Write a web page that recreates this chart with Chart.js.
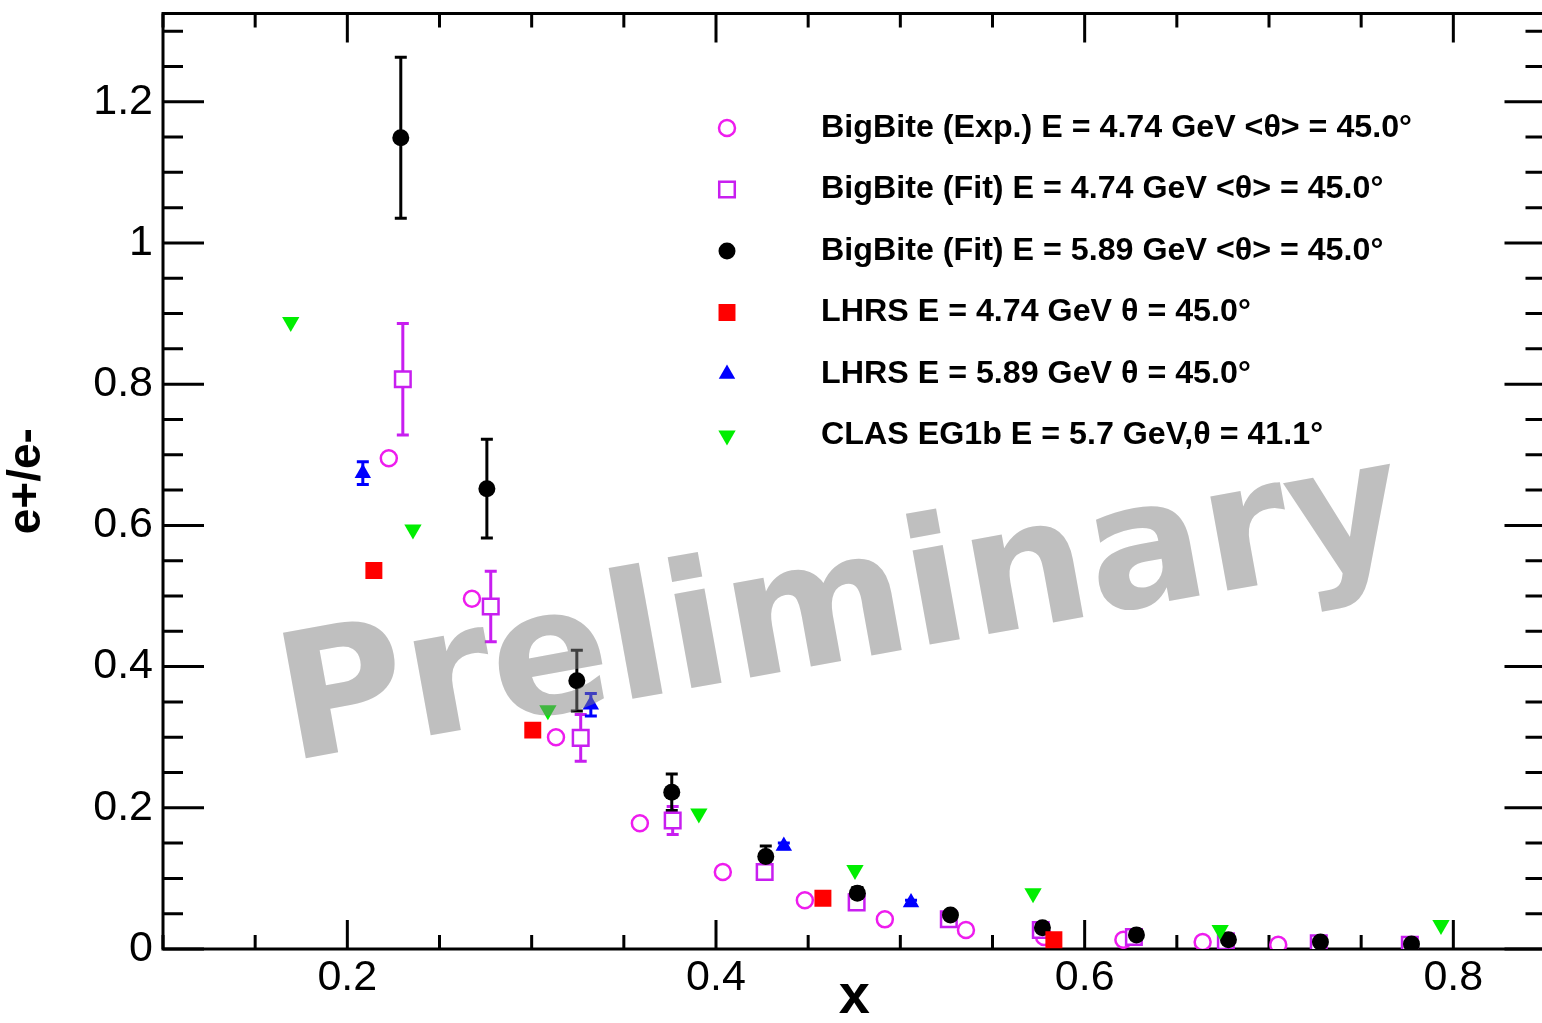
<!DOCTYPE html>
<html>
<head>
<meta charset="utf-8">
<script src="https://cdn.jsdelivr.net/npm/chart.js@4.4.1/dist/chart.umd.min.js"></script>
<style>
  html, body { margin: 0; padding: 0; background: #fff; overflow: hidden; }
  canvas { display: block; }
</style>
</head>
<body>
<canvas id="myChart" width="1560" height="1023"></canvas>
<script>
// tick labels
var xTicks = [0.2, 0.4, 0.6, 0.8];
var yTicks = [0, 0.2, 0.4, 0.6, 0.8, 1, 1.2];

// BigBite (Exp.) E = 4.74 GeV
var expX = [0.2225, 0.2676, 0.3132, 0.3587, 0.4037, 0.4482, 0.4916, 0.5356, 0.578, 0.621, 0.664, 0.705];
var expY = [0.695, 0.496, 0.300, 0.178, 0.109, 0.069, 0.042, 0.027, 0.017, 0.013, 0.010, 0.006];

// BigBite (Fit) E = 4.74 GeV
var fit474X = [0.2301, 0.2778, 0.3266, 0.3765, 0.4264, 0.4763, 0.5263, 0.5762, 0.6267, 0.6766, 0.7270, 0.7764];
var fit474Y = [0.807, 0.485, 0.299, 0.182, 0.109, 0.066, 0.042, 0.027, 0.017, 0.011, 0.008, 0.006];
var fit474Err = [0.079, 0.050, 0.033, 0.020, 0.010, 0.006, 0.004, 0.003, 0.002, 0.002, 0.001, 0.001];

// BigBite (Fit) E = 5.89 GeV
var fit589X = [0.229, 0.2757, 0.3245, 0.376, 0.427, 0.4767, 0.5272, 0.5771, 0.6281, 0.678, 0.7279, 0.7773];
var fit589Y = [1.149, 0.652, 0.380, 0.222, 0.131, 0.079, 0.048, 0.030, 0.020, 0.013, 0.010, 0.007];
var fit589Err = [0.114, 0.070, 0.043, 0.026, 0.015, 0.008, 0.005, 0.004, 0.003, 0.002, 0.002, 0.001];

// LHRS E = 4.74 GeV
var lhrs474X = [0.2144, 0.3006, 0.458, 0.5833];
var lhrs474Y = [0.536, 0.310, 0.072, 0.013];

// LHRS E = 5.89 GeV
var lhrs589X = [0.2084, 0.3321, 0.4368, 0.5058];
var lhrs589Y = [0.674, 0.346, 0.146, 0.066];
var lhrs589Err = [0.016, 0.016, 0.004, 0.003];

// CLAS EG1b
var clasX = [0.1693, 0.2356, 0.3088, 0.3907, 0.4754, 0.5720, 0.6735, 0.7933];
var clasY = [0.888, 0.594, 0.338, 0.192, 0.112, 0.079, 0.027, 0.034];

var labels = [
  "BigBite (Exp.) E = 4.74 GeV <\u03b8> = 45.0\u00b0",
  "BigBite (Fit) E = 4.74 GeV <\u03b8> = 45.0\u00b0",
  "BigBite (Fit) E = 5.89 GeV <\u03b8> = 45.0\u00b0",
  "LHRS E = 4.74 GeV \u03b8 = 45.0\u00b0",
  "LHRS E = 5.89 GeV \u03b8 = 45.0\u00b0",
  "CLAS EG1b E = 5.7 GeV,\u03b8 = 41.1\u00b0"
];

function pts(xs, ys) {
  return xs.map(function (x, i) { return { x: x, y: ys[i] }; });
}

var datasets = [
  { label: labels[0], data: pts(expX, expY), pointStyle: 'circle', pointRadius: 8,
    pointBorderWidth: 2.5, pointBorderColor: '#ee1cee', pointBackgroundColor: '#ffffff' },
  { label: labels[1], data: pts(fit474X, fit474Y), errors: fit474Err, errColor: '#c81ef0',
    pointStyle: 'rect', pointRadius: 11, pointBorderWidth: 2.5,
    pointBorderColor: '#c81ef0', pointBackgroundColor: '#ffffff' },
  { label: labels[2], data: pts(fit589X, fit589Y), errors: fit589Err, errColor: '#000000',
    pointStyle: 'circle', pointRadius: 8.5, pointBorderWidth: 0,
    pointBorderColor: '#000000', pointBackgroundColor: '#000000' },
  { label: labels[3], data: pts(lhrs474X, lhrs474Y), pointStyle: 'rect', pointRadius: 12,
    pointBorderWidth: 0, pointBorderColor: '#ff0000', pointBackgroundColor: '#ff0000' },
  { label: labels[4], data: pts(lhrs589X, lhrs589Y), errors: lhrs589Err, errColor: '#0000ff',
    pointStyle: 'triangle', pointRadius: 9.5, pointBorderWidth: 0,
    pointBorderColor: '#0000ff', pointBackgroundColor: '#0000ff' },
  { label: labels[5], data: pts(clasX, clasY), pointStyle: 'triangle', pointRotation: 180,
    pointRadius: 10, pointBorderWidth: 0,
    pointBorderColor: '#00ee00', pointBackgroundColor: '#00ee00' }
];
// first dataset drawn first (underneath)
datasets.forEach(function (d, i) { d.order = datasets.length - i; d.showLine = false; });

// frame with inward ticks on all 4 sides
var framePlugin = {
  id: 'frame',
  beforeDatasetsDraw: function (chart) {
    var ctx = chart.ctx, a = chart.chartArea;
    var xs = chart.scales.x, ys = chart.scales.y;
    ctx.save();
    ctx.strokeStyle = '#000';
    ctx.lineWidth = 3;
    ctx.strokeRect(a.left, a.top, a.right - a.left, a.bottom - a.top);
    ctx.beginPath();
    for (var k = Math.ceil(xs.min / 0.05 - 1e-6); k * 0.05 <= xs.max + 1e-6; k++) {
      var v = k * 0.05;
      var major = xTicks.some(function (t) { return Math.abs(t - v) < 1e-6; });
      var px = xs.getPixelForValue(v), len = major ? 29 : 14;
      ctx.moveTo(px, a.bottom); ctx.lineTo(px, a.bottom - len);
      ctx.moveTo(px, a.top); ctx.lineTo(px, a.top + len);
    }
    for (var j = Math.ceil(ys.min / 0.05 - 1e-6); j * 0.05 <= ys.max + 1e-6; j++) {
      var w = j * 0.05;
      var maj = yTicks.some(function (t) { return Math.abs(t - w) < 1e-6; });
      var py = ys.getPixelForValue(w), l2 = maj ? 41 : 20;
      ctx.moveTo(a.left, py); ctx.lineTo(a.left + l2, py);
      ctx.moveTo(a.right, py); ctx.lineTo(a.right - l2, py);
    }
    ctx.stroke();

    // error bars
    chart.data.datasets.forEach(function (ds) {
      if (!ds.errors) return;
      ctx.strokeStyle = ds.errColor;
      ctx.lineWidth = 3;
      ds.data.forEach(function (p, i) {
        var e = ds.errors[i];
        var cx = xs.getPixelForValue(p.x);
        var y1 = ys.getPixelForValue(p.y + e), y2 = ys.getPixelForValue(p.y - e);
        ctx.beginPath();
        ctx.moveTo(cx, y1); ctx.lineTo(cx, y2);
        ctx.moveTo(cx - 6, y1); ctx.lineTo(cx + 6, y1);
        ctx.moveTo(cx - 6, y2); ctx.lineTo(cx + 6, y2);
        ctx.stroke();
      });
    });
    ctx.restore();
  },
  afterDatasetsDraw: function (chart) {
    var ctx = chart.ctx;
    ctx.save();
    ctx.font = 'bold 175px "DejaVu Sans"';
    ctx.fillStyle = 'rgba(128,128,128,0.5)';
    ctx.textAlign = 'left';
    ctx.textBaseline = 'alphabetic';
    ctx.translate(290, 761);
    ctx.rotate(-10.3 * Math.PI / 180);
    ctx.fillText('Preliminary', 0, 0);
    ctx.restore();
  },
  afterDraw: function (chart) {
    var ctx = chart.ctx;
    ctx.save();
    ctx.font = 'bold 32px "Liberation Sans"';
    var sx = 591 / ctx.measureText(labels[0]).width;
    chart.data.datasets.forEach(function (ds, i) {
      var y = 128 + i * 61.5;
      ctx.fillStyle = ds.pointBackgroundColor;
      ctx.strokeStyle = ds.pointBorderColor;
      ctx.lineWidth = ds.pointBorderWidth;
      Chart.helpers.drawPoint(ctx, {
        pointStyle: ds.pointStyle, rotation: ds.pointRotation || 0,
        radius: ds.pointRadius, borderWidth: ds.pointBorderWidth
      }, 727, y);
      ctx.fillStyle = '#000';
      ctx.textAlign = 'left';
      ctx.textBaseline = 'middle';
      ctx.save();
      ctx.translate(821, y);
      ctx.scale(sx, 1);
      ctx.fillText(ds.label, 0, 0);
      ctx.restore();
    });
    ctx.restore();
  }
};

function fmt(v) { return String(+v.toFixed(2)); }

new Chart(document.getElementById('myChart'), {
  type: 'scatter',
  data: { datasets: datasets },
  options: {
    responsive: false,
    animation: false,
    layout: { padding: { top: 11, right: 14.5, left: 0, bottom: 0 } },
    plugins: { legend: { display: false }, tooltip: { enabled: false } },
    scales: {
      x: {
        type: 'linear', min: 0.1, max: 0.85,
        afterBuildTicks: function (s) { s.ticks = xTicks.map(function (v) { return { value: v }; }); },
        afterFit: function (s) { s.height = 74; s.paddingLeft = 0; s.paddingRight = 0; },
        grid: { display: false, drawTicks: false },
        border: { display: false },
        ticks: { autoSkip: false, maxRotation: 0, padding: 3, color: '#000',
                 font: { family: 'Liberation Sans', size: 43 }, callback: fmt },
        title: { display: true, text: 'x', color: '#000', padding: { top: -10, bottom: 0 },
                 font: { family: 'Liberation Sans', size: 56, weight: 'bold', lineHeight: 0.9 } }
      },
      y: {
        type: 'linear', min: 0, max: 1.325,
        afterBuildTicks: function (s) { s.ticks = yTicks.map(function (v) { return { value: v }; }); },
        afterFit: function (s) { s.width = 163; s.paddingTop = 0; s.paddingBottom = 0; },
        grid: { display: false, drawTicks: false },
        border: { display: false },
        ticks: { autoSkip: false, padding: 10, color: '#000',
                 font: { family: 'Liberation Sans', size: 43 }, callback: fmt },
        title: { display: true, text: 'e+/e-', color: '#000', padding: { top: 4, bottom: 0 },
                 font: { family: 'Liberation Sans', size: 46, weight: 'bold', lineHeight: 1 } }
      }
    }
  },
  plugins: [framePlugin]
});
</script>
</body>
</html>
